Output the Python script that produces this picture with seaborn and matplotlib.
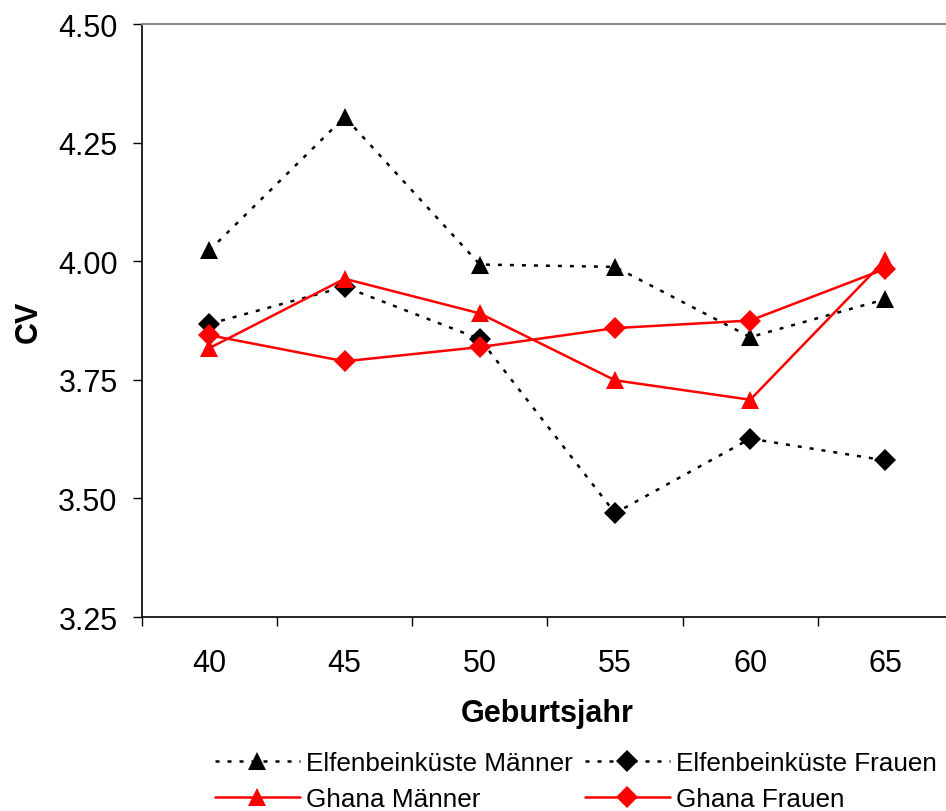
import numpy as np
import pandas as pd
import matplotlib
matplotlib.use("Agg")
import matplotlib.pyplot as plt
from matplotlib.lines import Line2D
from matplotlib.ticker import FixedLocator, NullFormatter
import seaborn as sns

# Birth-year cohorts and coefficient-of-variation values per group
years = ["40", "45", "50", "55", "60", "65"]
ci_men = [4.023, 4.304, 3.993, 3.988, 3.840, 3.920]
ci_women = [3.868, 3.946, 3.836, 3.469, 3.626, 3.580]
gh_men = [3.817, 3.963, 3.890, 3.749, 3.708, 4.003]
gh_women = [3.844, 3.789, 3.819, 3.859, 3.875, 3.984]

series_names = ["Elfenbeinküste Männer", "Elfenbeinküste Frauen",
                "Ghana Männer", "Ghana Frauen"]
series_values = [ci_men, ci_women, gh_men, gh_women]

y_ticks = [3.25, 3.50, 3.75, 4.00, 4.25, 4.50]

pos = np.arange(len(years))
df = pd.concat(
    [pd.DataFrame({"pos": pos, "cv": vals, "series": name})
     for name, vals in zip(series_names, series_values)],
    ignore_index=True,
)

sns.set_theme(style="white")
plt.rcParams["font.family"] = ["Liberation Sans", "DejaVu Sans"]
plt.rcParams["text.color"] = "black"

fig = plt.figure(figsize=(9.46, 8.12), dpi=100)
ax = fig.add_axes([0.150, 0.2389, 0.8574, 0.7303])

dotted = (0, (1.6, 3.2))
styles = {
    "Elfenbeinküste Männer": dict(color="black", marker="^", ms=12.5, ls=dotted, lw=1.8),
    "Elfenbeinküste Frauen": dict(color="black", marker="D", ms=11, ls=dotted, lw=1.8),
    "Ghana Männer": dict(color="red", marker="^", ms=12.5, ls="-", lw=1.8),
    "Ghana Frauen": dict(color="red", marker="D", ms=11, ls="-", lw=1.8),
}

handles = {}
for name in series_names:
    st = styles[name]
    sub = df[df["series"] == name]
    sns.lineplot(data=sub, x="pos", y="cv", ax=ax, color=st["color"],
                 linewidth=st["lw"], linestyle=st["ls"], marker=st["marker"],
                 markersize=st["ms"], markeredgewidth=0,
                 markerfacecolor=st["color"], legend=False, zorder=3)
    handles[name] = Line2D([], [], color=st["color"], lw=st["lw"], ls=st["ls"],
                           marker=st["marker"], ms=st["ms"], mew=0,
                           mfc=st["color"], label=name)

ax.set_xlim(-0.5, len(years) - 0.5)
ax.set_ylim(y_ticks[0], y_ticks[-1])
ax.set_yticks(y_ticks)
ax.set_yticklabels([f"{v:.2f}" for v in y_ticks])
ax.set_xticks(pos)
ax.set_xticklabels(years)
ax.xaxis.set_minor_locator(FixedLocator(np.arange(-0.5, len(years), 1.0)))
ax.xaxis.set_minor_formatter(NullFormatter())

ax.tick_params(axis="x", which="major", length=0, pad=22.5, labelsize=22,
               colors="black")
ax.tick_params(axis="x", which="minor", length=6.5, width=1, color="black",
               direction="out", bottom=True)
ax.tick_params(axis="y", which="major", length=6.5, width=1, color="black",
               direction="out", left=True, pad=11, labelsize=22,
               labelcolor="black")

for side in ["left", "bottom"]:
    ax.spines[side].set_color("black")
    ax.spines[side].set_linewidth(1.2)
ax.spines["top"].set_color("#8c8c8c")
ax.spines["top"].set_linewidth(1.5)
ax.spines["right"].set_visible(False)
ax.grid(False)

ax.set_xlabel("Geburtsjahr", fontsize=22, fontweight="bold", labelpad=14.5,
              color="black")
ax.set_ylabel("CV", fontsize=22, fontweight="bold", labelpad=10,
              color="black")

# two-column legend, filled column-wise: row 1 Elfenbeinküste, row 2 Ghana
legend_order = ["Elfenbeinküste Männer", "Ghana Männer",
                "Elfenbeinküste Frauen", "Ghana Frauen"]
fig.legend(handles=[handles[n] for n in legend_order], loc="upper left",
           bbox_to_anchor=(0.2273, 0.0735), ncol=2, frameon=False,
           fontsize=18.8, handlelength=3.25, handletextpad=0.23,
           columnspacing=0.46, labelspacing=0.45, borderaxespad=0,
           borderpad=0, labelcolor="black")

fig.savefig("out.png", dpi=100)
